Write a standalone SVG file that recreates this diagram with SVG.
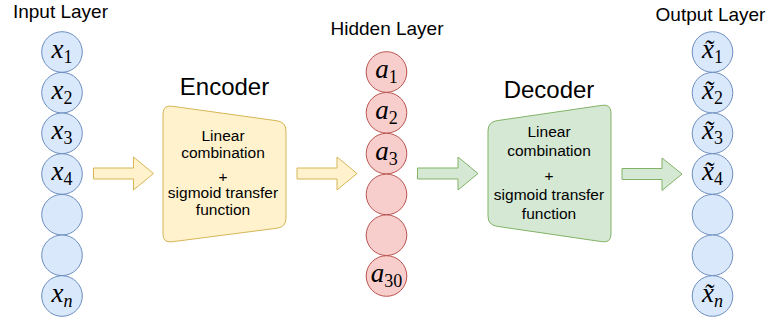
<svg xmlns="http://www.w3.org/2000/svg" width="771" height="320" viewBox="0 0 771 320">
  <style>
    .lbl { font-family: "Liberation Sans", Arial, sans-serif; fill: #000; text-anchor: middle; }
    .layer { font-size: 19px; }
    .title { font-size: 24px; }
    .body { font-size: 15.5px; }
    .blue { fill: #dae8fc; stroke: #6c8ebf; stroke-width: 1; }
    .red { fill: #f8cecc; stroke: #b85450; stroke-width: 1; }
    .yel { fill: #fff2cc; stroke: #d6b656; stroke-width: 1; }
    .grn { fill: #d5e8d4; stroke: #82b366; stroke-width: 1; }
    .m { font-family: "Liberation Serif", "Times New Roman", serif; font-style: italic; font-size: 27px; fill: #000; text-anchor: middle; }
    .s { font-style: normal; font-size: 18px; }
    .si { font-style: italic; font-size: 18px; }
  </style>

  <!-- layer captions -->
  <text class="lbl layer" x="60.5" y="17.5">Input Layer</text>
  <text class="lbl layer" x="387" y="35">Hidden Layer</text>
  <text class="lbl layer" x="710.5" y="20.5">Output Layer</text>

  <!-- input layer -->
  <g id="input-layer">
    <g id="x1"><circle class="blue" cx="62" cy="52" r="20.3"/><text class="m" x="62" y="58">x<tspan class="s" dy="5">1</tspan></text></g>
    <g id="x2"><circle class="blue" cx="62" cy="92.7" r="20.3"/><text class="m" x="62" y="98.7">x<tspan class="s" dy="5">2</tspan></text></g>
    <g id="x3"><circle class="blue" cx="62" cy="133.3" r="20.3"/><text class="m" x="62" y="139.3">x<tspan class="s" dy="5">3</tspan></text></g>
    <g id="x4"><circle class="blue" cx="62" cy="174" r="20.3"/><text class="m" x="62" y="180">x<tspan class="s" dy="5">4</tspan></text></g>
    <g id="x5"><circle class="blue" cx="62" cy="214.7" r="20.3"/></g>
    <g id="x6"><circle class="blue" cx="62" cy="255.3" r="20.3"/></g>
    <g id="xn"><circle class="blue" cx="62" cy="296" r="20.3"/><text class="m" x="62" y="302">x<tspan class="si" dy="5">n</tspan></text></g>
  </g>

  <!-- encoder -->
  <g id="encoder">
    <text class="lbl title" x="224.5" y="95">Encoder</text>
    <path class="yel" d="M163,114 Q163,105 171.9,106.2 L277.1,120.8 Q286,122 286,131 L286,218 Q286,227 277.1,228.2 L171.9,241.8 Q163,243 163,234 Z"/>
    <text class="lbl body" x="223" y="141">Linear</text>
    <text class="lbl body" x="223" y="158">combination</text>
    <text class="lbl body" x="223" y="181.5">+</text>
    <text class="lbl body" x="223" y="198">sigmoid transfer</text>
    <text class="lbl body" x="223" y="215">function</text>
  </g>

  <!-- hidden layer -->
  <g id="hidden-layer">
    <g id="a1"><circle class="red" cx="386.5" cy="72" r="20.3"/><text class="m" x="386.5" y="78">a<tspan class="s" dy="5">1</tspan></text></g>
    <g id="a2"><circle class="red" cx="386.5" cy="112.8" r="20.3"/><text class="m" x="386.5" y="118.8">a<tspan class="s" dy="5">2</tspan></text></g>
    <g id="a3"><circle class="red" cx="386.5" cy="153.6" r="20.3"/><text class="m" x="386.5" y="159.6">a<tspan class="s" dy="5">3</tspan></text></g>
    <g id="a4"><circle class="red" cx="386.5" cy="194.4" r="20.3"/></g>
    <g id="a5"><circle class="red" cx="386.5" cy="235.2" r="20.3"/></g>
    <g id="a30"><circle class="red" cx="386.5" cy="276" r="20.3"/><text class="m" x="386.5" y="282">a<tspan class="s" dy="5">30</tspan></text></g>
  </g>

  <!-- decoder -->
  <g id="decoder">
    <text class="lbl title" x="549" y="98">Decoder</text>
    <path class="grn" d="M488,131 Q488,122 496.9,120.7 L602.1,105.3 Q611,104 611,113 L611,234 Q611,243 602.1,241.7 L496.9,226.3 Q488,225 488,216 Z"/>
    <text class="lbl body" x="549" y="137">Linear</text>
    <text class="lbl body" x="549" y="156">combination</text>
    <text class="lbl body" x="549" y="180.5">+</text>
    <text class="lbl body" x="549" y="200">sigmoid transfer</text>
    <text class="lbl body" x="549" y="219">function</text>
  </g>

  <!-- output layer: reconstructed values, x with a combining tilde -->
  <g id="output-layer">
    <g id="y1"><circle class="blue" cx="712.5" cy="52" r="20.3"/><text class="m" x="712.5" y="58">x̃<tspan class="s" dy="5">1</tspan></text></g>
    <g id="y2"><circle class="blue" cx="712.5" cy="92.7" r="20.3"/><text class="m" x="712.5" y="98.7">x̃<tspan class="s" dy="5">2</tspan></text></g>
    <g id="y3"><circle class="blue" cx="712.5" cy="133.3" r="20.3"/><text class="m" x="712.5" y="139.3">x̃<tspan class="s" dy="5">3</tspan></text></g>
    <g id="y4"><circle class="blue" cx="712.5" cy="174" r="20.3"/><text class="m" x="712.5" y="180">x̃<tspan class="s" dy="5">4</tspan></text></g>
    <g id="y5"><circle class="blue" cx="712.5" cy="214.7" r="20.3"/></g>
    <g id="y6"><circle class="blue" cx="712.5" cy="255.3" r="20.3"/></g>
    <g id="yn"><circle class="blue" cx="712.5" cy="296" r="20.3"/><text class="m" x="712.5" y="302">x̃<tspan class="si" dy="5">n</tspan></text></g>
  </g>

  <!-- block arrows between stages -->
  <g id="connectors">
    <polygon class="yel" points="93.5,168 133.5,168 133.5,157 153.5,173.5 133.5,190 133.5,179 93.5,179"/>
    <polygon class="yel" points="297,168 337,168 337,157 357,173.5 337,190 337,179 297,179"/>
    <polygon class="grn" points="417.5,168 458,168 458,157 478,173.5 458,190 458,179 417.5,179"/>
    <polygon class="grn" points="622,168.5 662,168.5 662,158 682,174 662,190.5 662,179.5 622,179.5"/>
  </g>
</svg>
